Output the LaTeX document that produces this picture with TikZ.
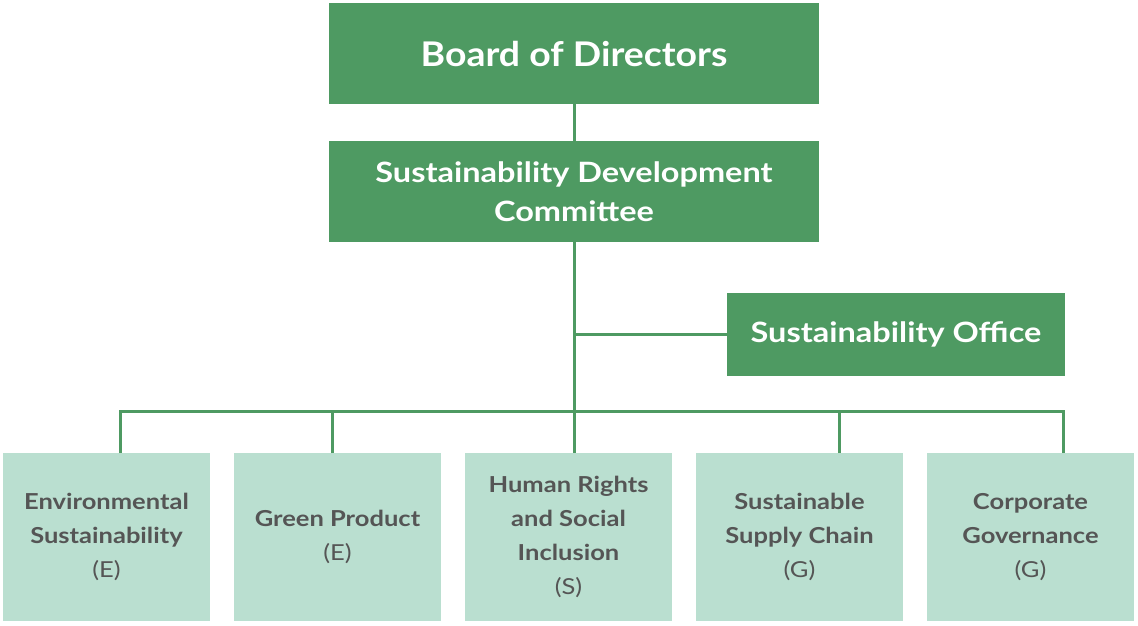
\documentclass[tikz,border=0pt]{standalone}
\usepackage{fontspec}
\setmainfont{Lato}[FakeStretch=1.16]
\newfontfamily\boardfont{Lato}[FakeStretch=1.1]
\usetikzlibrary{calc}
\definecolor{boardgreen}{RGB}{78,154,98}
\definecolor{areamint}{RGB}{186,223,208}
\definecolor{areatext}{RGB}{85,85,85}

\tikzset{
  topbox/.style={fill=boardgreen,text=white,inner sep=0pt,align=center,font=\bfseries\fontsize{28}{39}\selectfont},
  areabox/.style={fill=areamint,text=areatext,inner sep=0pt,minimum width=207pt,minimum height=168pt,align=center,font=\bfseries\fontsize{22}{34}\selectfont},
  link/.style={draw=boardgreen,line width=3pt}
}

\begin{document}
\begin{tikzpicture}[x=1pt,y=-1pt]
\useasboundingbox (0,0) rectangle (1138,625);
\node[topbox,minimum width=490pt,minimum height=101pt,font=\boardfont\bfseries\fontsize{34}{40}\selectfont] (board) at (574,53.5) {Board of Directors};
\node[topbox,minimum width=490pt,minimum height=101pt] (sdc) at (574,191.5) {Sustainability Development\\Committee};
\node[topbox,minimum width=338pt,minimum height=83pt] (office) at (896,334.5) {Sustainability Office};
\node[areabox] (env) at (106.5,537) {Environmental\\Sustainability\\{\mdseries (E)}};
\node[areabox] (green) at (337.5,537) {Green Product\\{\mdseries (E)}};
\node[areabox] (human) at (568.5,537) {Human Rights\\and Social\\Inclusion\\{\mdseries (S)}};
\node[areabox] (supply) at (799.5,537) {Sustainable\\Supply Chain\\{\mdseries (G)}};
\node[areabox] (corp) at (1030.5,537) {Corporate\\Governance\\{\mdseries (G)}};
% drop points on the area boxes
\coordinate (bus) at (574,411);
\coordinate (d1) at (120,453);
\coordinate (d2) at (332,453);
\coordinate (d4) at (839,453);
\coordinate (d5) at (1063,453);
\draw[link] (board.south) -- (sdc.north);
\draw[link] (sdc.south) -- (sdc.south |- human.north);
\draw[link] (sdc.south |- office.west) -- (office.west);
\draw[link] (d1) |- (d5 |- bus) -- (d5);
\foreach \d in {d2,d4}
  \draw[link] (\d) -- (\d |- bus);
\end{tikzpicture}
\end{document}
